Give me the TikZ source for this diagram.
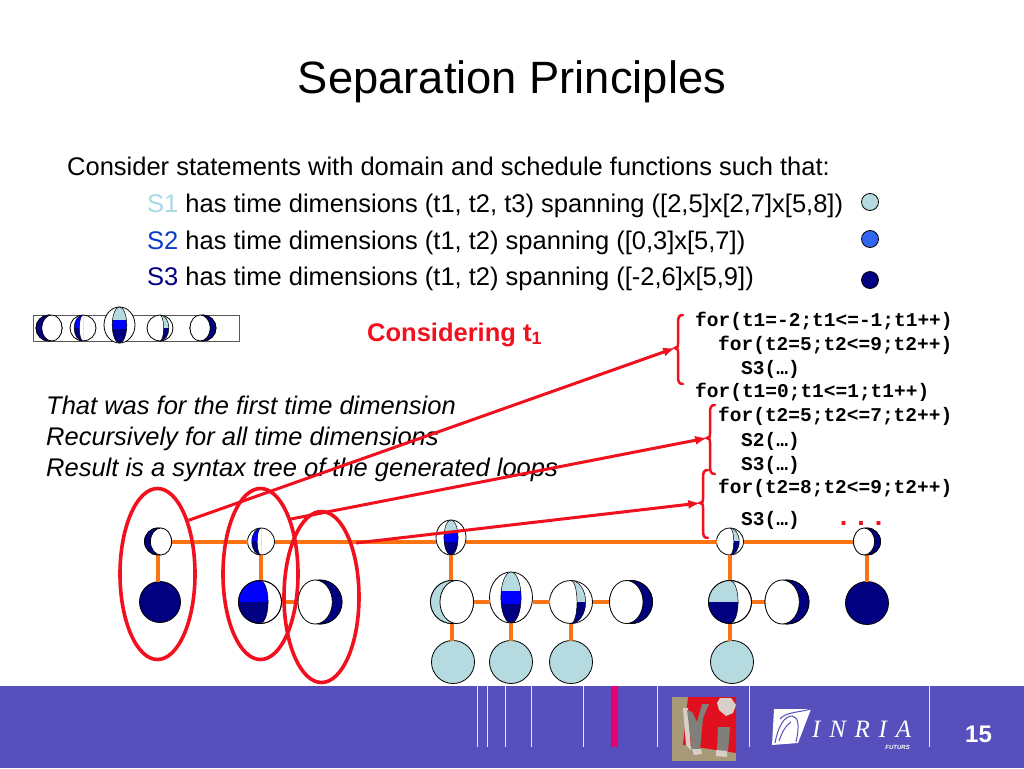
\documentclass[tikz,border=0pt]{standalone}
\usepackage{fontspec}
\setmainfont{Liberation Sans}
\newfontfamily\codefont{Liberation Mono}
\newfontfamily\logofont[LetterSpace=35]{Liberation Serif}
\usetikzlibrary{arrows,shapes.geometric}
\definecolor{palec}{HTML}{B5DBE0}
\definecolor{navyc}{HTML}{000080}
\definecolor{bluec}{HTML}{0000FF}
\definecolor{dotblue}{HTML}{3366F0}
\definecolor{orangec}{HTML}{FA7414}
\definecolor{redc}{HTML}{F0101E}
\definecolor{footc}{HTML}{574FBB}
\definecolor{s1c}{HTML}{A6DAE6}
\definecolor{s2c}{HTML}{0A3CC8}
\definecolor{pinkc}{HTML}{E8006E}
\definecolor{logobg}{HTML}{A89A78}
\definecolor{logored}{HTML}{E0101E}
\definecolor{logogray}{HTML}{80807A}
\definecolor{logolight}{HTML}{D8D0C8}
\newcommand{\fs}[1]{\fontsize{#1}{#1}\selectfont}
% node, radius, colour, side
\newcommand{\moon}[4]{
\begin{scope}[shift={(#1.center)},xscale=#4*#2,yscale=#2]
\draw[line width=.8pt,fill=#3] (0,0) circle (1);
\draw[line width=.8pt,fill=white] (-.22,0) ellipse [x radius=.78,y radius=1];
\end{scope}}
% node, radius, top colour, bottom colour, side
\newcommand{\bandball}[5]{
\begin{scope}[shift={(#1.center)},xscale=#5*#2,yscale=#2]
\begin{scope}
\clip (0,-1) rectangle (1,0);
\fill[#3] (0,0) ellipse [x radius=.68,y radius=1];
\end{scope}
\begin{scope}
\clip (0,0) rectangle (1,1);
\fill[#4] (0,0) ellipse [x radius=.68,y radius=1];
\end{scope}
\begin{scope}
\clip (0,-1) rectangle (1,1);
\fill[white] (0,0) ellipse [x radius=.28,y radius=1];
\draw[line width=.5pt] (0,0) ellipse [x radius=.28,y radius=1];
\draw[line width=.5pt] (0,0) ellipse [x radius=.68,y radius=1];
\end{scope}
\end{scope}}
% node, x radius, y radius
\newcommand{\lensball}[3]{
\begin{scope}[shift={(#1.center)},xscale=#2,yscale=#3]
\begin{scope}
\clip (0,0) ellipse [x radius=.47,y radius=1];
\fill[palec] (-1,-1) rectangle (1,-.27);
\fill[bluec] (-1,-.27) rectangle (1,.24);
\fill[navyc] (-1,.24) rectangle (1,1);
\end{scope}
\draw[line width=.5pt] (0,0) ellipse [x radius=.47,y radius=1];
\end{scope}}
% node, radius, top colour, bottom colour
\newcommand{\halfball}[4]{
\begin{scope}[shift={(#1.center)},scale=#2]
\begin{scope}
\clip (0,0) circle (1);
\begin{scope}
\clip (-1,-1) rectangle (1,0);
\fill[#3] (-1,-1) rectangle (0,1);
\fill[#3] (0,0) ellipse [x radius=.375,y radius=1];
\end{scope}
\begin{scope}
\clip (-1,0) rectangle (1,1);
\fill[#4] (-1,-1) rectangle (0,1);
\fill[#4] (0,0) ellipse [x radius=.375,y radius=1];
\end{scope}
\clip (0,-1) rectangle (1,1);
\draw[line width=.5pt] (0,0) ellipse [x radius=.375,y radius=1];
\end{scope}
\draw[line width=.8pt] (0,0) circle (1);
\end{scope}}
% tip name, spine x, top, tip y, bottom
\newcommand{\redbrace}[5]{
\draw[redc,line width=2.5pt,line cap=round] (#2+5,#3) .. controls (#2+1,#3) and (#2,#3+2) .. (#2,#3+8)
-- (#2,#4-5) .. controls (#2,#4-1) .. (#2-3,#4) coordinate (#1) .. controls (#2,#4+1) .. (#2,#4+5)
-- (#2,#5-8) .. controls (#2,#5-2) and (#2+1,#5) .. (#2+5,#5);}
\begin{document}
\begin{tikzpicture}[x=1pt,y=-1pt,
  ball/.style={circle,draw=black,fill=white,inner sep=0pt,outer sep=0pt,line width=.8pt},
  lens/.style={ellipse,draw=black,fill=white,inner sep=0pt,outer sep=0pt,line width=.8pt},
  link/.style={orangec,line width=4pt},
  sel/.style={ellipse,draw=redc,line width=3.6pt,inner sep=0pt,minimum width=75pt,minimum height=171pt},
  pointer/.style={redc,line width=3pt,-latex},
  txt/.style={anchor=base west,inner sep=0pt,font=\fs{25.5}},
  code/.style={anchor=base west,inner sep=0pt,font=\codefont\bfseries\fs{19.5}},
  vbar/.style={white!85!footc,line width=.8pt}]
\useasboundingbox (0,0) rectangle (1024,768);
\fill[white] (0,0) rectangle (1024,768);

\node[anchor=base,inner sep=0pt,font=\fs{45.3}] (title) at (512,93) {Separation Principles};
\node[txt] (intro) at (67,175) {Consider statements with domain and schedule functions such that:};
\node[txt] (s1) at (147,212) {\textcolor{s1c}{S1} has time dimensions (t1, t2, t3) spanning ([2,5]x[2,7]x[5,8])};
\node[txt] (s2) at (147,249) {\textcolor{s2c}{S2} has time dimensions (t1, t2) spanning ([0,3]x[5,7])};
\node[txt] (s3) at (147,285) {\textcolor{navyc}{S3} has time dimensions (t1, t2) spanning ([-2,6]x[5,9])};
\node[ball,fill=palec,minimum size=17pt] (dot1) at (870,202) {};
\node[ball,fill=dotblue,minimum size=17pt] (dot2) at (870,239) {};
\node[ball,fill=navyc,minimum size=17pt] (dot3) at (870,280) {};

\node[txt,redc,font=\bfseries\fs{25.5}] (consider) at (367,341) {Considering t\textsubscript{1}};
\node[txt,font=\itshape\fs{25.5}] (note1) at (46,414) {That was for the first time dimension};
\node[txt,font=\itshape\fs{25.5}] (note2) at (46,445) {Recursively for all time dimensions};
\node[txt,font=\itshape\fs{25.5}] (note3) at (46,476) {Result is a syntax tree of the generated loops};

\node[code] (l1) at (695,326) {for(t1=-2;t1<=-1;t1++)};
\node[code] (l2) at (718,350) {for(t2=5;t2<=9;t2++)};
\node[code] (l3) at (741,374) {S3(…)};
\node[code] (l4) at (695,397) {for(t1=0;t1<=1;t1++)};
\node[code] (l5) at (718,421) {for(t2=5;t2<=7;t2++)};
\node[code] (l6) at (741,446) {S2(…)};
\node[code] (l7) at (741,470) {S3(…)};
\node[code] (l8) at (718,493) {for(t2=8;t2<=9;t2++)};
\node[code] (l9) at (741,525) {S3(…)};
\node[anchor=base,inner sep=0pt,redc,font=\bfseries\fs{27}] (more) at (861,525) {. . .};

% top strip
\draw[black!65,line width=.9pt] (33,315) rectangle (239,341);
\node[ball,minimum size=26pt] (p1) at (49,328) {};
\node[ball,minimum size=26pt] (p2) at (83,328) {};
\node[lens,minimum width=31pt,minimum height=36pt] (p3) at (119.5,325) {};
\node[ball,minimum size=26pt] (p4) at (160,328) {};
\node[ball,minimum size=26pt] (p5) at (203,328) {};
\moon{p1}{13}{navyc}{-1}
\bandball{p2}{13}{bluec}{navyc}{-1}
\lensball{p3}{15.5}{18}
\bandball{p4}{13}{palec}{navyc}{1}
\moon{p5}{13}{navyc}{1}

% tree
\node[ball,minimum size=27pt] (n1) at (158,541.5) {};
\node[ball,minimum size=27pt] (n2) at (261,541.5) {};
\node[lens,minimum width=30pt,minimum height=35pt] (n3) at (451,537.5) {};
\node[ball,minimum size=27pt] (n4) at (730,541.5) {};
\node[ball,minimum size=27pt] (n5) at (867,541.5) {};
\node[ball,fill=navyc,minimum size=41pt] (a1) at (160,602) {};
\node[ball,minimum size=43pt] (a2) at (260,602) {};
\node[ball,minimum size=44pt] (a3) at (320,602) {};
\node[ball,minimum size=43pt] (b1) at (452,602) {};
\node[lens,minimum width=43pt,minimum height=51pt] (b2) at (511,597.5) {};
\node[ball,minimum size=43pt] (b3) at (571,602) {};
\node[ball,minimum size=43pt] (b4) at (631,602) {};
\node[ball,minimum size=43pt] (d1) at (730,602) {};
\node[ball,minimum size=44pt] (d2) at (787,602) {};
\node[ball,fill=navyc,minimum size=43pt] (e1) at (867,603) {};
\node[ball,fill=palec,minimum size=43pt] (c1) at (453,662) {};
\node[ball,fill=palec,minimum size=43pt] (c2) at (511,662) {};
\node[ball,fill=palec,minimum size=43pt] (c3) at (571,662) {};
\node[ball,fill=palec,minimum size=43pt] (d3) at (732,662) {};

\draw[link] (n1) -- (n2);
\draw[link] (n2.east) -- (n2.east -| n3.west);
\draw[link] (n2.east -| n3.east) -- (n4.west);
\draw[link] (n4) -- (n5);
\draw[link] (n1.south) -- (n1.south |- a1.north);
\draw[link] (n2.south) -- (n2.south |- a2.north);
\draw[link] (n3.south) -- (n3.south |- b1.north);
\draw[link] (n4.south) -- (n4.south |- d1.north);
\draw[link] (n5.south) -- (n5.south |- e1.north);
\draw[link] (a2) -- (a3);
\draw[link] (b1) -- (b1 -| b2.west);
\draw[link] (b3 -| b2.east) -- (b3);
\draw[link] (b3) -- (b4);
\draw[link] (d1) -- (d2);
\draw[link] (b1.south) -- (b1.south |- c1.north);
\draw[link] (b2) -- (c2);
\draw[link] (b3) -- (c3);
\draw[link] (d1.south) -- (d1.south |- d3.north);

\moon{n1}{13.5}{navyc}{-1}
\bandball{n2}{13.5}{bluec}{navyc}{-1}
\lensball{n3}{15}{17.5}
\bandball{n4}{13.5}{palec}{navyc}{1}
\moon{n5}{13.5}{navyc}{1}
\halfball{a2}{21.5}{bluec}{navyc}
\moon{a3}{22}{navyc}{1}
\moon{b1}{21.5}{palec}{-1}
\lensball{b2}{21.5}{25.5}
\bandball{b3}{21.5}{palec}{navyc}{1}
\moon{b4}{21.5}{navyc}{1}
\halfball{d1}{21.5}{palec}{navyc}
\moon{d2}{22}{navyc}{1}

% selections and pointers
\redbrace{tip1}{678}{315}{348}{384}
\redbrace{tip2}{710}{405}{438}{474}
\redbrace{tip3}{703}{470}{503}{538}
\node[sel] (sel1) at (157.5,574) {};
\node[sel] (sel2) at (260.5,574) {};
\node[sel] (sel3) at (321.5,597) {};
\coordinate (from3) at (356,543);
\draw[pointer] (sel1.60) -- (tip1);
\draw[pointer] (sel2.61) -- (tip2);
\draw[pointer] (from3) -- (tip3);

% footer
\fill[footc] (0,686) rectangle (1024,768);
\foreach \xpos in {477,487,505,531,583,657,749,929}
  \draw[vbar] (\xpos,686) -- (\xpos,747);
\fill[pinkc] (611,686) rectangle (618,747);

% logo
\fill[logobg] (672,697) rectangle (736,761);
\fill[logored] (688,697) -- (736,697) -- (736,753) -- (683,745) -- cycle;
\fill[logolight] (683,708) -- (688,708) -- (691,750) -- (686,745) -- cycle;
\fill[logogray] (687,710) -- (692,712) -- (697,722) -- (702,704) -- (709,704) -- (703,718) -- (700,750) -- (692,750) -- cycle;
\fill[logogray] (718,727) -- (730,727) -- (728,752) -- (717,750) -- cycle;
\fill[logolight] (692,749) -- (701,749) -- (702,754) -- (694,755) -- cycle;
\fill[logolight] (716,750) -- (727,751) -- (727,757) -- (716,756) -- cycle;
\fill[logolight] (720,698) -- (731,698) -- (736,705) -- (733,713) -- (726,716) -- (719,710) -- (717,703) -- cycle;

\fill[white] (774,709) -- (811,709) -- (798,743) -- (772,745) -- cycle;
\draw[footc,line width=1pt] (775,743) .. controls (778,727) and (784,716) .. (792,716) .. controls (798,717) and (800,724) .. (796,742);
\draw[footc,line width=1pt] (780,719) .. controls (786,712) and (796,713) .. (811,709);
\draw[footc,line width=1pt] (779,741) .. controls (782,732) and (786,725) .. (791,722);
\node[anchor=base west,inner sep=0pt,white,font=\logofont\itshape\fs{25}] (inria) at (812,737) {INRIA};
\node[anchor=base east,inner sep=0pt,white,font=\bfseries\itshape\fs{6}] (futurs) at (910,749) {FUTURS};
\node[white,inner sep=0pt,font=\bfseries\fs{24}] (page) at (978.5,734) {15};
\end{tikzpicture}
\end{document}
